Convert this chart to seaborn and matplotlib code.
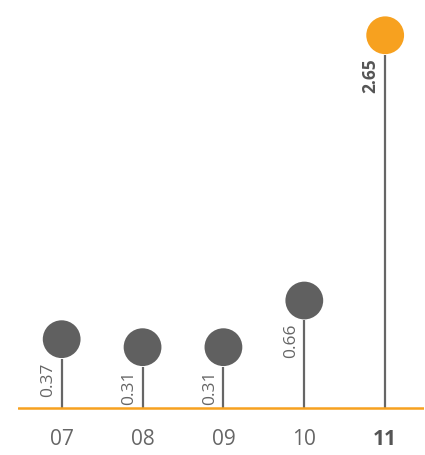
import matplotlib
matplotlib.use("Agg")
import matplotlib.pyplot as plt
import matplotlib.transforms as mtransforms
import seaborn as sns
import pandas as pd

categories = ["07", "08", "09", "10", "11"]
values = [0.37, 0.31, 0.31, 0.66, 2.65]
highlight = [False, False, False, False, True]
value_labels = ["0.37", "0.31", "0.31", "0.66", "2.65"]

df = pd.DataFrame({"cat": categories, "val": values,
                   "hl": ["yes" if h else "no" for h in highlight]})

sns.set_theme(style="white")
plt.rcParams["font.family"] = ["Open Sans", "DejaVu Sans"]

GRAY = "#606060"
STEM = "#666666"
ORANGE = "#F7A11F"
TEXT = "#666666"

dpi = 100
fig = plt.figure(figsize=(4.25, 4.56), dpi=dpi)
W, H = 425, 456
PX = 133.3      # pixels per unit
base_px = 409   # image row of the zero line
bottom_px = 420 # image row of the axes bottom
ax = fig.add_axes([18 / W, (H - bottom_px) / H, (424 - 18) / W, bottom_px / H])

# stems
ax.vlines(range(len(categories)), 0, df["val"], color=STEM, lw=1.6, zorder=2)

# circles sit on top of the stem tips
off = mtransforms.ScaledTranslation(0, 19.5 / dpi, fig.dpi_scale_trans)
sns.scatterplot(data=df, x="cat", y="val", hue="hl",
                palette={"no": GRAY, "yes": ORANGE}, s=740, linewidth=0,
                legend=False, ax=ax, transform=ax.transData + off, zorder=3,
                clip_on=False)

# value labels
for i, (v, lab, h) in enumerate(zip(values, value_labels, highlight)):
    ax.annotate(lab, xy=(i, v), xytext=(-4.0, -2.0), textcoords="offset points",
                rotation=90, ha="right", va="top", fontsize=12.5,
                color="#555555" if h else TEXT,
                fontweight="bold" if h else "normal")

ax.axhline(0, color=ORANGE, lw=1.8, zorder=4)
ax.set_xlim(-0.54, 4.48)
ax.set_ylim(-(bottom_px - base_px) / PX, base_px / PX)
ax.set_xlabel("")
ax.set_ylabel("")
ax.set_yticks([])
ax.set_xticks(range(len(categories)))
ax.set_xticklabels(categories)
ax.tick_params(axis="x", length=0, pad=6.5, labelsize=15, labelcolor=TEXT)
for t, h in zip(ax.get_xticklabels(), highlight):
    if h:
        t.set_fontweight("bold")
        t.set_color("#555555")
for s in ax.spines.values():
    s.set_visible(False)

fig.savefig("out.png", dpi=dpi)
